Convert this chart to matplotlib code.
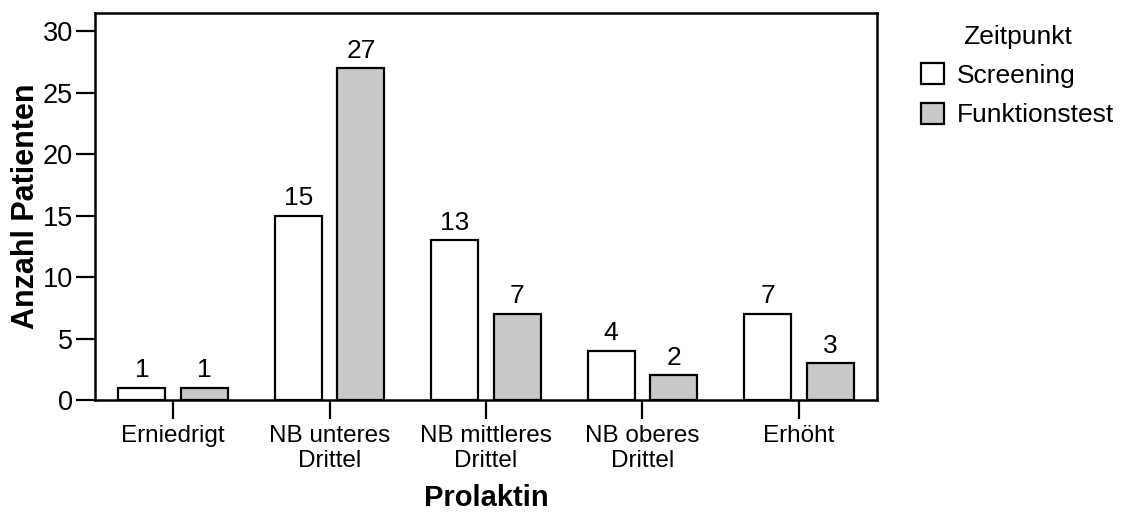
import numpy as np
import matplotlib.pyplot as plt

plt.rcParams['font.family'] = ['Liberation Sans', 'DejaVu Sans']

categories = ['Erniedrigt', 'NB unteres\nDrittel', 'NB mittleres\nDrittel', 'NB oberes\nDrittel', 'Erhöht']
screening = [1, 15, 13, 4, 7]
funktionstest = [1, 27, 7, 2, 3]
series_names = ['Screening', 'Funktionstest']

fig = plt.figure(figsize=(11.23, 5.13), dpi=100)
ax = fig.add_axes([0.0846, 0.2203, 0.6964, 0.7544])

x = np.arange(len(categories))
w = 0.3
b1 = ax.bar(x - 0.2, screening, w, color='white', edgecolor='black', linewidth=1.6, label=series_names[0])
b2 = ax.bar(x + 0.2, funktionstest, w, color='#c8c8c8', edgecolor='black', linewidth=1.6, label=series_names[1])

for bars in (b1, b2):
    for r in bars:
        ax.annotate('%d' % r.get_height(), (r.get_x() + r.get_width() / 2, r.get_height()),
                    xytext=(0, 4), textcoords='offset points',
                    ha='center', va='bottom', fontsize=19)

ax.set_xlim(-0.5, 4.5)
ax.set_ylim(0, 31.5)
ax.set_yticks([0, 5, 10, 15, 20, 25, 30])
ax.set_xticks(x)
ax.set_xticklabels(categories, fontsize=17.5)
ax.tick_params(axis='y', labelsize=19.5, length=14, width=1.6, direction='out', pad=2)
ax.tick_params(axis='x', length=14, width=1.6, direction='out', pad=4)
for s in ax.spines.values():
    s.set_linewidth(1.8)

ax.set_xlabel('Prolaktin', fontsize=21, fontweight='bold', labelpad=8.5)
ax.set_ylabel('Anzahl Patienten', fontsize=22, fontweight='bold', labelpad=1)

leg = fig.legend(handles=[b1, b2], title='Zeitpunkt', loc='upper left',
                 bbox_to_anchor=(0.811, 0.972), frameon=False, fontsize=19,
                 title_fontsize=19, handlelength=0.85, handleheight=0.85,
                 handletextpad=0.5, labelspacing=0.55, borderaxespad=0)

plt.savefig('out.png', dpi=100)
